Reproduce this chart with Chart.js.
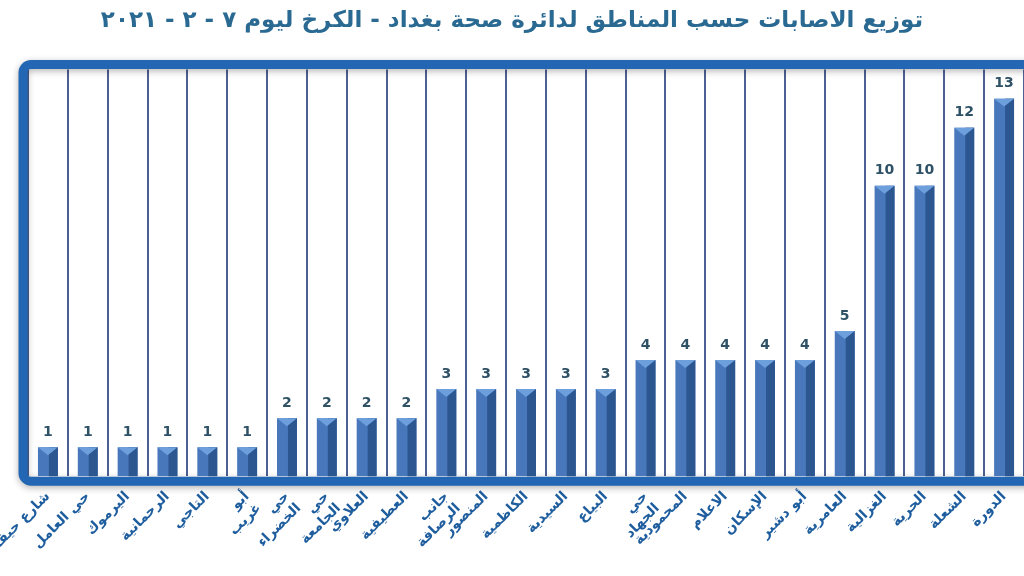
<!DOCTYPE html>
<html>
<head>
<meta charset="utf-8">
<script src="https://cdn.jsdelivr.net/npm/chart.js@4"></script>
<style>
  html, body { margin: 0; padding: 0; background: #fff; overflow: hidden; }
  #wrap { position: relative; width: 1024px; height: 576px; }
</style>
</head>
<body>
<div id="wrap"><canvas id="bar-chart" dir="rtl" width="1024" height="576"></canvas></div>
<script>
    // areas (left to right as in the picture)
    const areaNames = [
        'شارع حيفا', 'حي العامل', 'اليرموك', 'الرحمانية', 'التاجي', ['أبو', 'غريب'],
        ['حي', 'الخضراء'], ['حي', 'الجامعة'], 'العلاوي', 'العطيفية', ['جانب', 'الرصافة'],
        'المنصور', 'الكاظمية', 'السيدية', 'البياع', ['حي', 'الجهاد'], 'المحمودية',
        'الاعلام', 'الإسكان', 'أبو دشير', 'العامرية', 'الغزالية', 'الحرية', 'الشعلة', 'الدورة'
    ];
    // infections per area
    const caseCounts = [1, 1, 1, 1, 1, 1, 2, 2, 2, 2, 3, 3, 3, 3, 3, 4, 4, 4, 4, 4, 5, 10, 10, 12, 13];

    const chartTitle = 'توزيع الاصابات حسب المناطق لدائرة صحة بغداد - الكرخ ليوم ٧ - ٢ - ٢٠٢١';

    // thick rounded blue frame round the plot
    const framePlugin = {
        id: 'frame',
        beforeDatasetsDraw(chart) {
            const { ctx, chartArea: a } = chart;
            ctx.save();
            ctx.shadowColor = 'rgba(0,0,0,0.3)';
            ctx.shadowBlur = 7;
            ctx.shadowOffsetY = 2;
            ctx.strokeStyle = '#2367b4';
            ctx.lineWidth = 9;
            ctx.beginPath();
            ctx.roundRect(a.left - 5, a.top - 5, a.right - a.left + 40, a.bottom - a.top + 10, 8);
            ctx.stroke();
            ctx.restore();
        }
    };

    // bevel look on bars + value labels
    const barLookPlugin = {
        id: 'barLook',
        afterDatasetsDraw(chart) {
            const ctx = chart.ctx;
            const meta = chart.getDatasetMeta(0);
            ctx.save();
            meta.data.forEach((bar, i) => {
                const half = bar.width / 2;
                const left = bar.x - half, right = bar.x + half;
                // darker right face
                ctx.fillStyle = '#2c5690';
                ctx.fillRect(bar.x + 1, bar.y, half - 1, bar.base - bar.y);
                // light top cap
                ctx.fillStyle = '#6d9fdd';
                ctx.beginPath();
                ctx.moveTo(left, bar.y);
                ctx.lineTo(right, bar.y);
                ctx.lineTo(bar.x, bar.y + half * 0.8);
                ctx.closePath();
                ctx.fill();
                // value
                ctx.fillStyle = '#2e5166';
                ctx.font = 'bold 14px "DejaVu Sans", sans-serif';
                ctx.textAlign = 'center';
                ctx.textBaseline = 'bottom';
                ctx.fillText(caseCounts[i], bar.x, bar.y - 8);
            });
            ctx.restore();
        }
    };

    const barCanvas = document.getElementById('bar-chart');
    new Chart(barCanvas, {
        type: 'bar',
        data: {
            labels: areaNames,
            datasets: [{
                label: 'الاصابات',
                data: caseCounts,
                backgroundColor: '#4878bb',
                borderWidth: 0,
                categoryPercentage: 1,
                barPercentage: 0.5
            }]
        },
        options: {
            responsive: false,
            animation: false,
            devicePixelRatio: 1,
            layout: { padding: { top: 2, left: 0, right: 0, bottom: 0 } },
            plugins: {
                legend: { display: false },
                tooltip: { enabled: false },
                title: {
                    display: true,
                    text: chartTitle,
                    color: '#2a6a92',
                    font: { family: '"DejaVu Sans", sans-serif', size: 23, weight: 'bold' },
                    padding: { top: 5, bottom: 35 }
                }
            },
            scales: {
                x: {
                    grid: { color: '#4d6093', lineWidth: 2, drawTicks: false },
                    border: { display: false },
                    ticks: {
                        color: '#1f5e9e',
                        font: { family: '"DejaVu Sans", sans-serif', size: 14, weight: 'bold' },
                        minRotation: 45,
                        maxRotation: 45,
                        padding: 12,
                        autoSkip: false
                    },
                    afterFit(scale) {
                        // plot starts just inside the frame; first label runs off the left edge
                        scale.paddingLeft = 28;
                        scale.paddingRight = 0;
                    }
                },
                y: {
                    display: false,
                    min: 0,
                    max: 14
                }
            }
        },
        plugins: [framePlugin, barLookPlugin]
    });
</script>
</body>
</html>
